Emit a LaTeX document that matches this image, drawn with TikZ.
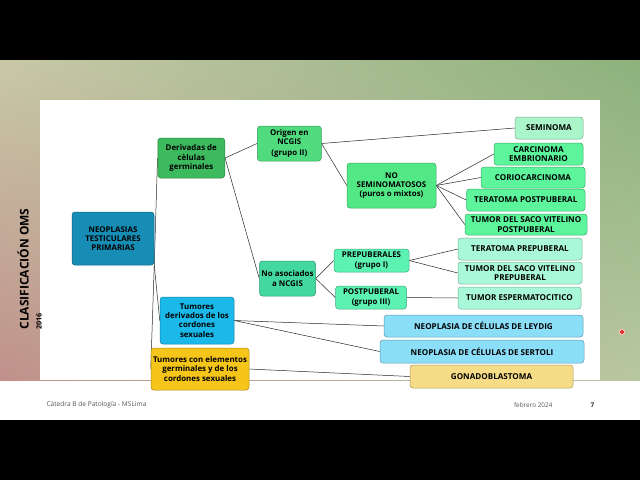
\documentclass[tikz,border=0pt]{standalone}
\usepackage{fontspec}
\setmainfont{Open Sans}
\usetikzlibrary{backgrounds,shadings}
\definecolor{cNeo}{HTML}{178DB5}
\definecolor{cDer}{HTML}{3DBA5E}
\definecolor{cOri}{HTML}{50DC7E}
\definecolor{cNoSem}{HTML}{52E886}
\definecolor{cSem}{HTML}{AAF5CA}
\definecolor{cSub}{HTML}{5CF59C}
\definecolor{cNoAs}{HTML}{42D8A0}
\definecolor{cGrp}{HTML}{5CF2B2}
\definecolor{cPre}{HTML}{AAF8DA}
\definecolor{cTder}{HTML}{1BB8EA}
\definecolor{cLey}{HTML}{8ADEF8}
\definecolor{cGold}{HTML}{F5C51A}
\definecolor{cGon}{HTML}{F6DC86}
\definecolor{bgUL}{HTML}{C8C8A8}
\definecolor{bgUR}{HTML}{8CB27C}
\definecolor{bgLL}{HTML}{C0908A}
\definecolor{bgLR}{HTML}{B8C8A0}
\begin{document}
\begin{tikzpicture}[x=1pt,y=-1pt,
  font=\bfseries\fontsize{7.9}{9.2}\selectfont,
  bx/.style={fill=#1, draw=#1!70!black, rounded corners=3pt, align=center,
    inner sep=0.5pt, line width=0.5pt},
  caps/.style={font=\bfseries\fontsize{8.1}{9.2}\selectfont},
  conn/.style={draw=black!85, line width=0.5pt}]
\useasboundingbox (0,0) rectangle (640,480);
% background
\begin{scope}[on background layer]
  \fill[black] (0,0) rectangle (640,60);
  \fill[black] (0,420) rectangle (640,480);
  \fill[white] (0,60) rectangle (640,420);
  \shade[upper left=bgUL, upper right=bgUR, lower left=bgLL, lower right=bgLR]
    (0,60) rectangle (640,380);
  \fill[white] (40,100) rectangle (600,380);
\end{scope}
% nodes
\node[bx=cNeo, minimum width=82, minimum height=53] (neo) at (113,238.5) {NEOPLASIAS\\TESTICULARES\\PRIMARIAS};
\node[bx=cDer, minimum width=67, minimum height=40] (der) at (191.3,158) {Derivadas de\\cèlulas\\germinales};
\node[bx=cOri, minimum width=64, minimum height=35] (ori) at (289.3,143.5) {Origen en\\NCGIS\\[2pt](grupo II)};
\node[bx=cNoSem, minimum width=89, minimum height=45] (nosem) at (391.5,185.5) {NO\\SEMINOMATOSOS\\(puros o mixtos)};
\node[bx=cSem, caps, minimum width=68, minimum height=22] (sem) at (549,128) {SEMINOMA};
\node[bx=cSub, caps, minimum width=89, minimum height=22] (carc) at (538.5,154) {CARCINOMA\\EMBRIONARIO};
\node[bx=cSub, caps, minimum width=104, minimum height=21] (corio) at (533,177.5) {CORIOCARCINOMA};
\node[bx=cSub, caps, minimum width=118.5, minimum height=22] (terpost) at (525.75,200) {TERATOMA POSTPUBERAL};
\node[bx=cSub, caps, minimum width=122, minimum height=21] (sacopost) at (526,224.5) {TUMOR DEL SACO VITELINO\\POSTPUBERAL};
\node[bx=cNoAs, minimum width=56, minimum height=35] (noas) at (287.5,278.5) {No asociados\\a NCGIS};
\node[bx=cGrp, minimum width=75, minimum height=23] (prep) at (371.5,260.5) {PREPUBERALES\\(grupo I)};
\node[bx=cGrp, minimum width=71, minimum height=23] (postp) at (371,297.5) {POSTPUBERAL\\(grupo III)};
\node[bx=cPre, caps, minimum width=124, minimum height=22] (terpre) at (520,249) {TERATOMA PREPUBERAL};
\node[bx=cPre, caps, minimum width=124, minimum height=22] (sacopre) at (520,273) {TUMOR DEL SACO VITELINO\\PREPUBERAL};
\node[bx=cPre, caps, minimum width=123, minimum height=22] (esper) at (519.5,298) {TUMOR ESPERMATOCITICO};
\node[bx=cTder, minimum width=74, minimum height=47] (tder) at (197,320.5) {Tumores\\derivados de los\\cordones\\sexuales};
\node[bx=cGold, minimum width=98, minimum height=42] (gold) at (200,369) {Tumores con elementos\\germinales y de los\\cordones sexuales};
\node[bx=cLey, caps, minimum width=199, minimum height=22] (leydig) at (483.5,326) {NEOPLASIA DE CÉLULAS DE LEYDIG};
\node[bx=cLey, caps, minimum width=204, minimum height=23] (sertoli) at (482,351.5) {NEOPLASIA DE CÉLULAS DE SERTOLI};
\node[bx=cGon, caps, minimum width=163, minimum height=23] (gonado) at (491.5,376.5) {GONADOBLASTOMA};
% connectors
\begin{scope}[on background layer]
  \draw[conn] (neo.south east) -- (der.west);
  \draw[conn] (neo.south east) -- (tder.west);
  \draw[conn] (neo.south east) -- (gold.west);
  \draw[conn] (der.east) -- (ori.west);
  \draw[conn] (der.east) -- (noas.west);
  \draw[conn] (ori.east) -- (sem.west);
  \draw[conn] (ori.east) -- (nosem.west);
  \draw[conn] (nosem.east) -- (carc.west);
  \draw[conn] (nosem.east) -- (corio.west);
  \draw[conn] (nosem.east) -- (terpost.west);
  \draw[conn] (nosem.east) -- (sacopost.west);
  \draw[conn] (noas.east) -- (prep.west);
  \draw[conn] (noas.east) -- (postp.west);
  \draw[conn] (prep.east) -- (terpre.west);
  \draw[conn] (prep.east) -- (sacopre.west);
  \draw[conn] (postp.east) -- (esper.west);
  \draw[conn] (tder.east) -- (leydig.west);
  \draw[conn] (tder.east) -- (sertoli.west);
  \draw[conn] (gold.east) -- (gonado.west);
\end{scope}
% side title
\node[rotate=90, font=\bfseries\fontsize{12}{12}\selectfont] (title) at (23,269) {CLASIFICACIÓN OMS};
\node[rotate=90, font=\bfseries\fontsize{7.2}{7.5}\selectfont] (year) at (39,321.5) {2016};
% footer
\node[anchor=west, text=black!65, font=\fontsize{6.6}{7}\selectfont] (foot) at (43,405) {Cátedra B de Patología - MSLima};
\node[anchor=east, text=black!65, font=\fontsize{6.4}{7}\selectfont] (date) at (556,405) {febrero 2024};
\node[text=black!80, font=\bfseries\fontsize{6.5}{7}\selectfont] (page) at (592.5,405) {7};
% pointer dot
\fill[red!25] (622,332) circle (3.2);
\draw[red!85!black, line width=0.9pt] (622,332) circle (1.5);
\end{tikzpicture}
\end{document}
